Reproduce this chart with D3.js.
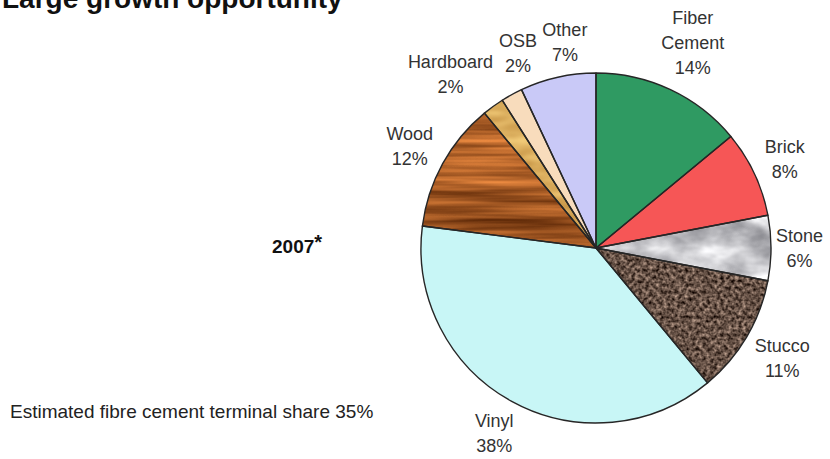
<!DOCTYPE html>
<html>
<head>
<meta charset="utf-8">
<script src="https://cdn.jsdelivr.net/npm/d3@7"></script>
<style>
  html, body { margin: 0; padding: 0; background: #ffffff; }
  svg { display: block; }
  text { font-family: "Liberation Sans", Arial, Helvetica, sans-serif; }
</style>
</head>
<body>
<svg id="chart" width="830" height="459"></svg>
<script>
// ---- data ----
const categories = ["Fiber Cement", "Brick", "Stone", "Stucco", "Vinyl", "Wood", "Hardboard", "OSB", "Other"];
const shares = [14, 8, 6, 11, 38, 12, 2, 2, 7];
const labelLines = [["Fiber", "Cement"], ["Brick"], ["Stone"], ["Stucco"], ["Vinyl"], ["Wood"], ["Hardboard"], ["OSB"], ["Other"]];
const titleText = "Large growth opportunity";
const yearText = "2007";
const noteText = "Estimated fibre cement terminal share 35%";

// ---- layout ----
const W = 830, H = 459;
const cx = 596, cy = 248, R = 175;
// small angular nudges (degrees) to spread the crowded top-left labels
const labelAngleNudge = { "Hardboard": -4, "OSB": 7, "Other": 4 };
const svg = d3.select("#chart");
const defs = svg.append("defs");

// texture filters
function noiseFilter(id, freq, octaves, seed, lo, hi) {
  const f = defs.append("filter").attr("id", id)
    .attr("filterUnits", "userSpaceOnUse")
    .attr("color-interpolation-filters", "sRGB")
    .attr("x", -W).attr("y", -H).attr("width", 2 * W).attr("height", 2 * H);
  f.append("feTurbulence").attr("type", "fractalNoise")
    .attr("baseFrequency", freq).attr("numOctaves", octaves).attr("seed", seed).attr("result", "noise");
  const row = (a, b) => {
    const s = (b - a) / 0.4, o = a - 0.3 * s;
    return `${s} 0 0 0 ${o}`;
  };
  f.append("feColorMatrix").attr("in", "noise").attr("type", "matrix")
    .attr("values", `${row(lo[0], hi[0])} ${row(lo[1], hi[1])} ${row(lo[2], hi[2])} 0 0 0 0 1`)
    .attr("result", "col");
  f.append("feComposite").attr("in", "col").attr("in2", "SourceGraphic").attr("operator", "in");
}
noiseFilter("tex-stone", "0.02 0.035", 4, 3, [0.64, 0.64, 0.66], [0.96, 0.96, 0.97]);
noiseFilter("tex-stucco", "0.28", 2, 7, [0.20, 0.14, 0.11], [0.60, 0.50, 0.44]);
noiseFilter("tex-wood", "0.005 0.12", 3, 11, [0.47, 0.23, 0.07], [0.82, 0.47, 0.21]);
noiseFilter("tex-hard", "0.03 0.08", 2, 5, [0.80, 0.61, 0.30], [0.92, 0.76, 0.44]);

const fills = {
  "Fiber Cement": { color: "#2f9a62" },
  "Brick": { color: "#f65656" },
  "Stone": { color: "#c0c0c0", filter: "tex-stone" },
  "Stucco": { color: "#6e5a50", filter: "tex-stucco" },
  "Vinyl": { color: "#c8f6f6" },
  "Wood": { color: "#a85a26", filter: "tex-wood" },
  "Hardboard": { color: "#d8a850", filter: "tex-hard" },
  "OSB": { color: "#f8dcbc" },
  "Other": { color: "#c9c9f7" }
};

const data = categories.map((c, i) => ({ name: c, value: shares[i], lines: labelLines[i] }));
const pie = d3.pie().value(d => d.value).sort(null);
const arcs = pie(data);
const arc = d3.arc().innerRadius(0).outerRadius(R);

const g = svg.append("g").attr("transform", `translate(${cx},${cy})`);

g.selectAll("path.slice").data(arcs).join("path")
  .attr("class", "slice")
  .attr("d", arc)
  .attr("fill", d => fills[d.data.name].color)
  .attr("filter", d => fills[d.data.name].filter ? `url(#${fills[d.data.name].filter})` : null);

g.selectAll("path.edge").data(arcs).join("path")
  .attr("class", "edge")
  .attr("d", arc)
  .attr("fill", "none")
  .attr("stroke", "#262626")
  .attr("stroke-width", 1.4)
  .attr("stroke-linejoin", "round");

// labels
const fs = 18, lh = 25, gap = 5;
const measure = svg.append("text").attr("font-size", fs).attr("visibility", "hidden");
arcs.forEach(a => {
  const mid = (a.startAngle + a.endAngle) / 2 + (labelAngleNudge[a.data.name] || 0) * Math.PI / 180;
  const lines = a.data.lines.concat([a.data.value + "%"]);
  let maxW = 0;
  lines.forEach(l => { measure.text(l); maxW = Math.max(maxW, measure.node().getComputedTextLength()); });
  const halfW = maxW / 2, halfH = lines.length * lh / 2;
  const dist = R + gap + halfW * Math.abs(Math.sin(mid)) + halfH * Math.abs(Math.cos(mid));
  const lx = cx + dist * Math.sin(mid), ly = cy - dist * Math.cos(mid);
  const t = svg.append("text").attr("text-anchor", "middle").attr("font-size", fs).attr("fill", "#333");
  lines.forEach((l, i) => {
    t.append("tspan").attr("x", lx).attr("y", ly - halfH + lh * i + lh * 0.5 + fs * 0.36).text(l);
  });
});
measure.remove();

// title (cut off at the top)
svg.append("text").attr("x", 2).attr("y", 8).attr("font-size", 28).attr("font-weight", "bold")
  .attr("fill", "#111").text(titleText);

// year
const yt = svg.append("text").attr("x", 272).attr("y", 253).attr("font-size", 19).attr("font-weight", "bold").attr("fill", "#111");
yt.append("tspan").text(yearText);
yt.append("tspan").attr("dy", -4).attr("font-size", 20).text("*");

// note
svg.append("text").attr("x", 10).attr("y", 418).attr("font-size", 19).attr("fill", "#222").text(noteText);
</script>
</body>
</html>
